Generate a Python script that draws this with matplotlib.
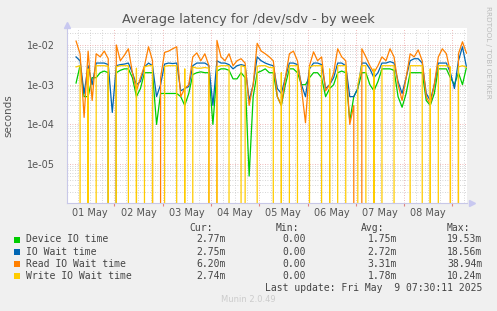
import matplotlib
matplotlib.use("Agg")
import matplotlib.pyplot as plt
from matplotlib.patches import Rectangle
import numpy as np
import pandas as pd

# samples every 2 hours, values in milliseconds (0 = no latency)
times = pd.date_range("2025-05-01 05:00", periods=98, freq="2h")

device = [1.1, 3, 0.5, 0.5, 1.5, 1.5, 2, 2.2, 2, 0,
          2, 2.3, 2.5, 2.5, 1.5, 0.5, 0.8, 2, 2, 2,
          0.1, 0.6, 0.6, 0.6, 0.6, 0.6, 0.5, 0.3, 0.6, 1.8,
          2, 2.1, 2, 2, 0.1, 2.2, 2.5, 2.5, 2.3, 1.4,
          1.4, 2, 1.5, 0.005, 0.5, 2, 2.2, 2.5, 2, 2,
          0.5, 0.3, 1, 2.5, 2.5, 2, 1, 1, 1.5, 2,
          2, 1.5, 0.5, 0.8, 1, 2, 2.2, 2, 0.12, 0.5,
          0.8, 2, 2, 1, 0.7, 1.2, 2.5, 2.5, 2.5, 2.3,
          0.5, 0.27, 0.6, 2, 2, 2, 2, 0.4, 0.3, 0.6,
          2.5, 2.5, 2.5, 1.5, 1, 2, 1, 2.77]
iowait = [5, 4, 0.6, 3, 1.0, 3.5, 3.5, 3.5, 3.2, 0.2,
          3, 3.2, 3.3, 3.5, 2, 1.0, 1.2, 2.8, 3.5, 3,
          0.5, 1, 3.3, 3.5, 3.4, 3.5, 0.7, 0.8, 0.9, 3,
          3.5, 3.5, 3.5, 3, 0.3, 4, 3.5, 3.5, 3.2, 2.5,
          3, 3.2, 3, 0.4, 1, 5, 4, 3.5, 3.2, 3,
          0.8, 0.6, 1.5, 3.5, 3.5, 3.2, 1, 0.5, 2.5, 3.5,
          3.5, 3.2, 0.8, 1, 1.5, 3.5, 3.5, 3, 0.5, 0.5,
          0.8, 3.5, 3.5, 2.5, 1.5, 2, 3.5, 3.5, 3.8, 3.5,
          1.2, 0.6, 1.5, 4, 4.5, 4.5, 3.5, 0.6, 0.4, 1,
          3.5, 3.5, 3.5, 2, 0.8, 4, 9, 2.75]
read = [12.5, 6, 0.15, 7, 0.4, 6, 5, 7, 4.5, 0,
        10, 4, 5.5, 8, 2, 0.7, 1.5, 3, 9, 4,
        0, 1.5, 6.5, 7, 8, 9, 0.5, 0.8, 1.0, 5,
        6.3, 4, 6, 3, 0, 13, 5, 4, 6, 3,
        4, 4.5, 3.5, 0.3, 1, 11, 7, 6, 5, 4,
        0.5, 0.3, 1.5, 6, 7, 4, 0.8, 0.11, 3, 6.7,
        4, 5, 0.7, 1, 2, 8, 5, 4, 0.1, 0.3,
        0, 8, 5, 3, 2, 3, 5, 4, 8, 5,
        1, 0.4, 1.5, 6, 5, 7.5, 4, 0.5, 0.32, 1,
        5, 8, 6, 2, 0, 6, 12, 6.2]
write = [2.8, 3, 0, 2.5, 0, 3, 3, 3, 2.9, 0,
         2.8, 3, 3, 3, 0, 2.6, 0, 2.8, 3, 3,
         0, 0, 2.9, 3, 3, 3, 0, 2.5, 0, 2.8,
         2.6, 2.6, 2.7, 2.6, 0, 2.8, 3, 3, 3, 0,
         0, 3, 2.8, 0, 0, 2.9, 3, 3, 2.7, 2.7,
         0, 2, 0, 3, 3, 3, 0, 0, 2.8, 3,
         3, 3, 0, 2.5, 0, 3, 3, 3, 0, 0,
         1, 3, 3, 0, 2.5, 0, 3, 3, 3, 3,
         0, 0, 0, 3, 3, 3, 3, 0, 2.5, 0,
         3, 3, 3, 2.8, 0, 2.8, 3, 2.74]

names = ["Device IO time", "IO Wait time", "Read IO Wait time", "Write IO Wait time"]
colors = ["#00CC00", "#0066B3", "#FF8000", "#FFCC00"]
cur = ["2.77m", "2.75m", "6.20m", "2.74m"]
mins = ["0.00", "0.00", "0.00", "0.00"]
avgs = ["1.75m", "2.72m", "3.31m", "1.78m"]
maxs = ["19.53m", "18.56m", "38.94m", "10.24m"]
days = pd.date_range("2025-05-01", "2025-05-08")

W, H = 497, 311
fig = plt.figure(figsize=(W / 100, H / 100), dpi=100, facecolor="#F0F0F0")
ax = fig.add_axes([67 / W, 1 - 203 / H, 400 / W, 175 / H])
ax.set_facecolor("white")

for series, c in zip([device, iowait, read, write], colors):
    ax.plot(times, np.array(series) * 1e-3, color=c, lw=0.9)

ax.set_yscale("log", nonpositive="clip")
ax.set_ylim(1.05e-6, 2.67e-2)
ax.set_xlim(pd.Timestamp("2025-05-01 00:30"), pd.Timestamp("2025-05-09 07:15"))

# grid
for d in pd.date_range("2025-05-01 06:00", "2025-05-09 06:00", freq="6h"):
    if d.hour == 0:
        ax.axvline(d, color="#E8A0A0", lw=0.6, ls=(0, (1, 2)), zorder=0.5)
    else:
        ax.axvline(d, color="#C8C8C8", lw=0.6, ls=(0, (1, 2)), zorder=0.5)
for e in range(-6, -1):
    for m in range(2, 10):
        v = m * 10.0 ** e
        if v < 2.67e-2:
            ax.axhline(v, color="#C8C8C8", lw=0.6, ls=(0, (1, 2)), zorder=0.5)
    ax.axhline(10.0 ** e, color="#E8A0A0", lw=0.6, ls=(0, (1, 2)), zorder=0.5)

ax.set_yticks([1e-5, 1e-4, 1e-3, 1e-2])
ax.set_yticklabels(["1e-05", "1e-04", "1e-03", "1e-02"])
ax.yaxis.set_minor_locator(matplotlib.ticker.NullLocator())
ax.set_xticks(pd.date_range("2025-05-02", "2025-05-09"))
ax.set_xticklabels([])
ax.tick_params(axis="x", length=2.5, width=0.8, color="#E08080", direction="out")
ax.tick_params(axis="y", length=0, pad=9, labelsize=7, labelcolor="#555555")
for d in days:
    ax.text(d + pd.Timedelta(hours=12), -0.055, d.strftime("%d %b"), transform=ax.get_xaxis_transform(),
            ha="center", va="center", fontsize=7, color="#555555")

for s in ["top", "right"]:
    ax.spines[s].set_visible(False)
for s in ["left", "bottom"]:
    ax.spines[s].set_color("#C8C8E8")
    ax.spines[s].set_linewidth(0.8)
ax.plot([0], [1.015], marker="^", ms=4, color="#C8C8F0", transform=ax.transAxes, clip_on=False)
ax.plot([1.012], [0], marker=">", ms=4, color="#C8C8F0", transform=ax.transAxes, clip_on=False)

ax.set_ylabel("seconds", fontsize=7.5, color="#555555", labelpad=8)
ax.yaxis.set_label_coords(-0.135, 0.5)

fig.text(248 / W, 1 - 19 / H, "Average latency for /dev/sdv - by week", ha="center", va="center",
         fontsize=9.3, color="#555555")
fig.text(488 / W, 1 - 6 / H, "RRDTOOL / TOBI OETIKER", rotation=270, ha="center", va="top",
         fontsize=5.2, color="#BBBBBB")

mono = "DejaVu Sans Mono"
hy = 1 - 227.7 / H
for label, xr in zip(["Cur:", "Min:", "Avg:", "Max:"], [213, 299, 384, 470]):
    fig.text(xr / W, hy, label, ha="right", va="center", family=mono, fontsize=7, color="#444444")
for i in range(4):
    y = 1 - (239.5 + 12.1 * i) / H
    fig.add_artist(Rectangle((14 / W, y - 3 / H), 6 / W, 6 / H, transform=fig.transFigure,
                             facecolor=colors[i], edgecolor="none"))
    fig.text(26 / W, y, names[i], ha="left", va="center", family=mono, fontsize=7, color="#444444")
    for val, xr in zip([cur[i], mins[i], avgs[i], maxs[i]], [226, 305.7, 397, 482.3]):
        fig.text(xr / W, y, val, ha="right", va="center", family=mono, fontsize=7, color="#444444")
fig.text(482.3 / W, 1 - 287.7 / H, "Last update: Fri May  9 07:30:11 2025", ha="right", va="center",
         family=mono, fontsize=7, color="#444444")
fig.text(248 / W, 1 - 299.5 / H, "Munin 2.0.49", ha="center", va="center", fontsize=6,
         color="#CCCCCC")

fig.savefig("out.png", dpi=100, facecolor=fig.get_facecolor())
